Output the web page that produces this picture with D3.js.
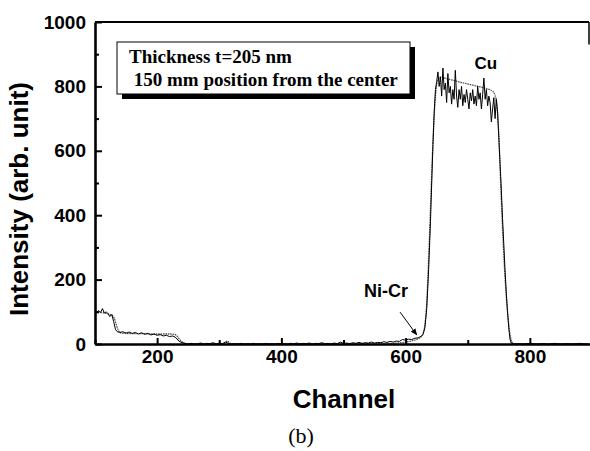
<!DOCTYPE html>
<html>
<head>
<meta charset="utf-8">
<script src="https://cdn.jsdelivr.net/npm/d3@7"></script>
<style>
  body { margin: 0; background: #fff; }
  svg { display: block; }
  .tick text { font-family: "Liberation Sans", Arial, sans-serif; font-weight: bold; font-size: 19px; fill: #000; }
</style>
</head>
<body>
<div id="chart"></div>
<script>
// measured spectrum (noisy) : channel / intensity
var expChannel = [97,100,103,106,109,112,115,118,121,124,127,130,133,136,140,
  145,150,155,160,165,170,175,180,185,190,195,200,205,210,215,220,225,230,235,240,245,250,
  255,260,265,270,275,280,285,290,295,300,305,310,315,320,325,330,335,340,345,350,
  355,360,365,370,375,380,385,390,395,400,405,410,415,420,425,430,435,440,445,450,
  455,460,465,470,475,480,485,490,495,500,505,510,515,520,525,530,535,540,545,550,
  555,560,565,570,575,580,585,590,595,600,605,610,615,620,625,628,631,634,637,640,
  642,644,646,648,650,652,654,656,658,660,662,664,666,668,670,672,674,676,678,680,
  682,684,686,688,690,692,694,696,698,700,702,704,706,708,710,712,714,716,718,720,
  722,724,726,728,730,732,734,736,738,740,742,744,746,748,750,752,754,756,758,760,
  762,764,766,768,770,775,780,790,800,810,820,830,840,850,860,870,880,890,900];
var expCount = [108,103,99,104,98,110,96,100,94,85,92,70,45,38,36,
  38,34,37,33,36,31,35,30,33,28,31,27,29,25,27,23,25,20,9,4,2,0,
  2,0,1,3,0,2,1,4,0,3,1,6,2,0,1,0,2,0,1,0,
  2,0,1,0,2,0,1,0,2,0,1,0,2,1,3,0,2,1,3,0,
  2,1,4,1,2,0,3,1,6,2,3,1,4,2,5,2,4,3,6,3,
  5,4,7,5,8,6,9,8,14,12,15,14,18,19,24,30,50,110,230,380,
  500,620,720,790,815,845,800,830,770,857,790,810,750,840,780,800,745,790,760,850,
  770,735,790,760,800,740,775,750,790,760,730,780,755,790,745,770,740,800,760,780,
  730,775,826,760,790,740,770,750,690,730,765,700,760,720,640,560,480,390,310,230,
  160,100,50,15,3,0,1,0,2,0,1,0,2,0,1,0,2,0,0];

// simulated spectrum (smooth)
var simChannel = [97,105,112,118,124,128,131,134,137,140,145,160,180,200,220,228,232,236,240,244,250,
  305,309,313,317,321,560,580,600,612,620,625,628,631,634,637,640,643,646,649,652,656,
  670,690,710,730,740,744,747,750,753,756,759,762,765,768,771,775,900];
var simCount = [100,99,97,95,92,88,80,62,45,36,33,32,32,31,31,30,25,15,7,2,0,
  0,3,9,3,0,0,2,6,11,16,22,32,60,130,260,420,580,710,790,820,828,
  822,812,803,793,785,772,740,650,500,360,240,150,80,30,6,0,0];

var xTicks = [200, 400, 600, 800];
var xMinor = [100, 300, 500, 700, 900];
var yTicks = [0, 200, 400, 600, 800, 1000];
var yMinor = [100, 300, 500, 700, 900];

var legendLines = ["Thickness t=205 nm", " 150 mm position from the center"];

var W = 590, H = 451;
var svg = d3.select("#chart").append("svg").attr("width", W).attr("height", H);
svg.append("rect").attr("width", W).attr("height", H).attr("fill", "#fff");

var x = d3.scaleLinear().domain([100, 900]).range([95, 592]);
var y = d3.scaleLinear().domain([0, 1000]).range([344, 22]);

var defs = svg.append("defs");
defs.append("clipPath").attr("id", "plotclip").append("rect")
  .attr("x", 95).attr("y", 10).attr("width", 494).attr("height", 334);
defs.append("marker").attr("id", "arrowhead")
  .attr("viewBox", "0 0 10 10").attr("refX", 9).attr("refY", 5)
  .attr("markerWidth", 7).attr("markerHeight", 7).attr("orient", "auto")
  .append("path").attr("d", "M0,1 L10,5 L0,9 Z").attr("fill", "#000");

var line = d3.line().x(function(d){ return x(d[0]); }).y(function(d){ return y(d[1]); });
var smooth = d3.line().curve(d3.curveMonotoneX).x(function(d){ return x(d[0]); }).y(function(d){ return y(d[1]); });

var plot = svg.append("g").attr("clip-path", "url(#plotclip)");

plot.append("path")
  .datum(d3.zip(simChannel, simCount))
  .attr("d", smooth)
  .attr("fill", "none")
  .attr("stroke", "#555")
  .attr("stroke-width", 1.3)
  .attr("stroke-dasharray", "1.6,0.8");

plot.append("path")
  .datum(d3.zip(expChannel, expCount))
  .attr("d", line)
  .attr("fill", "none")
  .attr("stroke", "#000")
  .attr("stroke-width", 1);

// frame top / right (right edge is cut in the original, only its top shows)
svg.append("line").attr("x1", x(100)).attr("x2", 589).attr("y1", y(1000)).attr("y2", y(1000))
  .attr("stroke", "#000").attr("stroke-width", 2);
svg.append("line").attr("x1", 589).attr("x2", 589).attr("y1", y(1000)).attr("y2", y(930))
  .attr("stroke", "#000").attr("stroke-width", 1.5);

// axes
var xAxis = svg.append("g").attr("transform", "translate(0," + y(0) + ")")
  .call(d3.axisBottom(x).tickValues(xTicks).tickSizeInner(-6).tickSizeOuter(0).tickPadding(6).tickFormat(d3.format("d")));
var xAxisMinor = svg.append("g").attr("transform", "translate(0," + y(0) + ")")
  .call(d3.axisBottom(x).tickValues(xMinor).tickSizeInner(-4).tickSizeOuter(0).tickFormat(""));
var yAxis = svg.append("g").attr("transform", "translate(" + x(100) + ",0)")
  .call(d3.axisLeft(y).tickValues(yTicks).tickSizeInner(-7).tickSizeOuter(0).tickPadding(9).tickFormat(d3.format("d")));
var yAxisMinor = svg.append("g").attr("transform", "translate(" + x(100) + ",0)")
  .call(d3.axisLeft(y).tickValues(yMinor).tickSizeInner(-4).tickSizeOuter(0).tickFormat(""));

svg.selectAll(".domain").attr("stroke", "#000").attr("stroke-width", 2.6);
svg.selectAll(".tick line").attr("stroke", "#000").attr("stroke-width", 2);
xAxis.selectAll(".tick text").attr("dy", "0.68em");
xAxisMinor.select(".domain").attr("stroke-width", 0);
yAxisMinor.select(".domain").attr("stroke-width", 0);

// axis titles
svg.append("text")
  .attr("transform", "translate(28,199) rotate(-90)")
  .attr("text-anchor", "middle")
  .style("font-family", "Liberation Sans, Arial, sans-serif")
  .style("font-weight", "bold").style("font-size", "26px")
  .text("Intensity (arb. unit)");

svg.append("text")
  .attr("x", 344).attr("y", 408)
  .attr("text-anchor", "middle")
  .style("font-family", "Liberation Sans, Arial, sans-serif")
  .style("font-weight", "bold").style("font-size", "26px")
  .text("Channel");

svg.append("text")
  .attr("x", 301).attr("y", 443)
  .attr("text-anchor", "middle")
  .style("font-family", "Liberation Serif, serif")
  .style("font-size", "22px")
  .text("(b)");

// legend box with shadow
var lg = svg.append("g");
lg.append("rect").attr("x", 122).attr("y", 47).attr("width", 293).attr("height", 52).attr("fill", "#000");
lg.append("rect").attr("x", 117).attr("y", 42).attr("width", 293).attr("height", 52)
  .attr("fill", "#fff").attr("stroke", "#000").attr("stroke-width", 1);
lg.selectAll("text.leg").data(legendLines).enter().append("text")
  .attr("class", "leg")
  .attr("x", 129)
  .attr("y", function(d, i){ return 63 + i * 23; })
  .attr("xml:space", "preserve")
  .style("white-space", "pre")
  .style("font-family", "Liberation Serif, Times New Roman, serif")
  .style("font-weight", "bold").style("font-size", "19px")
  .text(function(d){ return d; });

// annotations
svg.append("text")
  .attr("x", x(711)).attr("y", y(854))
  .style("font-family", "Liberation Sans, Arial, sans-serif")
  .style("font-weight", "bold").style("font-size", "17px")
  .text("Cu");

svg.append("text")
  .attr("x", x(533)).attr("y", y(146))
  .style("font-family", "Liberation Sans, Arial, sans-serif")
  .style("font-weight", "bold").style("font-size", "18px")
  .text("Ni-Cr");

svg.append("line")
  .attr("x1", x(591)).attr("y1", y(99))
  .attr("x2", x(618)).attr("y2", y(28))
  .attr("stroke", "#000").attr("stroke-width", 1)
  .attr("marker-end", "url(#arrowhead)");
</script>
</body>
</html>
